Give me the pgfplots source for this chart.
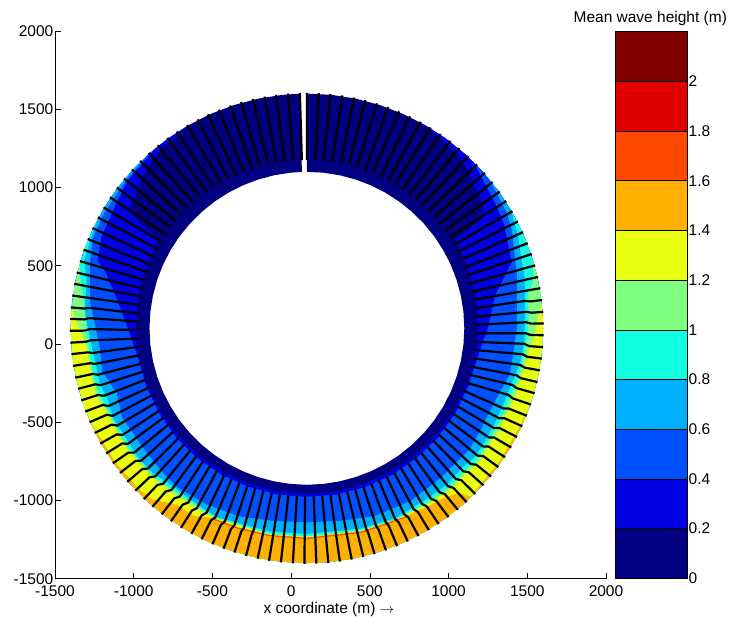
\documentclass[border=0pt]{standalone}
\usepackage{fontspec}
\setmainfont{Liberation Sans}
\usepackage{pgfplots}
\pgfplotsset{compat=1.18}
\definecolor{c0}{RGB}{0,0,128}
\definecolor{c1}{RGB}{0,0,224}
\definecolor{c2}{RGB}{0,80,255}
\definecolor{c3}{RGB}{0,176,255}
\definecolor{c4}{RGB}{16,255,224}
\definecolor{c5}{RGB}{128,255,128}
\definecolor{c6}{RGB}{232,255,16}
\definecolor{c7}{RGB}{255,176,0}
\definecolor{c8}{RGB}{255,72,0}
\definecolor{c9}{RGB}{224,0,0}
\definecolor{c10}{RGB}{128,0,0}
\pgfplotsset{
  /pgfplots/table/pol/.style={row sep=\\,
    x expr={100+\thisrow{r}*cos(\thisrow{a})},
    y expr={100+\thisrow{r}*sin(\thisrow{a})}},
  /pgfplots/table/ray/.style={row sep=\\,
    x expr={100+\thisrow{r}*cos(\thisrow{a}+\thisrow{d})},
    y expr={100+\thisrow{r}*sin(\thisrow{a}+\thisrow{d})}},
}
\begin{document}
\begin{tikzpicture}[x=1pt,y=1pt]
\useasboundingbox (0,0) rectangle (729,617);
\begin{axis}[
  at={(55pt,38.3pt)}, anchor=south west, scale only axis,
  width=551pt, height=547.7pt,
  xmin=-1500, xmax=2000, ymin=-1500, ymax=2000,
  axis x line*=bottom, axis y line*=left,
  xtick={-1500,-1000,...,2000}, ytick={-1500,-1000,...,2000},
  tick align=inside, major tick length=5.5pt,
  tick style={black,line width=0.5pt}, axis line style={black,line width=0.6pt},
  /pgf/number format/assume math mode=true,
  /pgf/number format/1000 sep={},
  tick label style={font=\fontsize{15.5}{17}\selectfont},
  every tick label/.append style={inner sep=1.5pt},
  xticklabel style={yshift=-5pt},
  xlabel={x coordinate (m) $\rightarrow$},
  xlabel style={font=\fontsize{15.5}{17}\selectfont, at={(axis description cs:0.497,0)}, anchor=north, yshift=-22pt, inner sep=1pt},
  unbounded coords=jump,
]
% base ring
\addplot[fill=c0,draw=none] table[pol]{a r\\
90 1500\\84 1500\\78 1500\\72 1500\\66 1500\\60 1500\\54 1500\\48 1500\\42 1500\\36 1500\\30 1500\\24 1500\\18 1500\\12 1500\\6 1500\\0 1500\\-6 1500\\-12 1500\\-18 1500\\-24 1500\\-30 1500\\-36 1500\\-42 1500\\-48 1500\\-54 1500\\-60 1500\\-66 1500\\-72 1500\\-78 1500\\-84 1500\\-90 1500\\-96 1500\\-102 1500\\-108 1500\\-114 1500\\-120 1500\\-126 1500\\-132 1500\\-138 1500\\-144 1500\\-150 1500\\-156 1500\\-162 1500\\-168 1500\\-174 1500\\-180 1500\\-186 1500\\-192 1500\\-198 1500\\-204 1500\\-210 1500\\-216 1500\\-222 1500\\-228 1500\\-234 1500\\-240 1500\\-246 1500\\-252 1500\\-258 1500\\-264 1500\\-268.2 1500\\
-268.2 1000\\-264 1000\\-258 1000\\-252 1000\\-246 1000\\-240 1000\\-234 1000\\-228 1000\\-222 1000\\-216 1000\\-210 1000\\-204 1000\\-198 1000\\-192 1000\\-186 1000\\-180 1000\\-174 1000\\-168 1000\\-162 1000\\-156 1000\\-150 1000\\-144 1000\\-138 1000\\-132 1000\\-126 1000\\-120 1000\\-114 1000\\-108 1000\\-102 1000\\-96 1000\\-90 1000\\-84 1000\\-78 1000\\-72 1000\\-66 1000\\-60 1000\\-54 1000\\-48 1000\\-42 1000\\-36 1000\\-30 1000\\-24 1000\\-18 1000\\-12 1000\\-6 1000\\0 1000\\6 1000\\12 1000\\18 1000\\24 1000\\30 1000\\36 1000\\42 1000\\48 1000\\54 1000\\60 1000\\66 1000\\72 1000\\78 1000\\84 1000\\90 1000\\
};
% level 0.2
\addplot[fill=c1,draw=none] table[pol]{a r\\
60 1500\\50 1470\\45 1440\\40 1400\\35 1370\\32 1300\\31 1100\\20 1095\\10 1090\\0 1085\\-10 1082\\-20 1076\\-30 1072\\-40 1068\\-50 1065\\-60 1062\\-70 1060\\-80 1060\\-90 1060\\-100 1060\\-110 1060\\-120 1062\\-130 1065\\-140 1068\\-150 1072\\-160 1076\\-170 1082\\-180 1085\\-190 1090\\-200 1095\\-211 1100\\-213 1320\\-215 1370\\-220 1400\\-225 1440\\-230 1470\\-240 1500\\
-234 1500\\-228 1500\\-222 1500\\-216 1500\\-210 1500\\-204 1500\\-198 1500\\-192 1500\\-186 1500\\-180 1500\\-174 1500\\-168 1500\\-162 1500\\-156 1500\\-150 1500\\-144 1500\\-138 1500\\-132 1500\\-126 1500\\-120 1500\\-114 1500\\-108 1500\\-102 1500\\-96 1500\\-90 1500\\-84 1500\\-78 1500\\-72 1500\\-66 1500\\-60 1500\\-54 1500\\-48 1500\\-42 1500\\-36 1500\\-30 1500\\-24 1500\\-18 1500\\-12 1500\\-6 1500\\0 1500\\6 1500\\12 1500\\18 1500\\24 1500\\30 1500\\36 1500\\42 1500\\48 1500\\54 1500\\
};
% level 0.4
\addplot[fill=c2,draw=none] table[pol]{a r\\
45 1500\\38 1456\\34 1440\\28 1419\\18 1368\\10 1215\\0 1150\\-7 1110\\-20 1090\\-30 1088\\-40 1086\\-50 1084\\-60 1082\\-70 1080\\-80 1079\\-90 1078\\-100 1079\\-110 1080\\-120 1082\\-130 1084\\-140 1085\\-150 1085\\-160 1087\\-170 1090\\-180 1137\\-189 1224\\-196 1337\\-198 1398\\-204 1430\\-213 1450\\-220 1480\\-230 1500\\
-224 1500\\-218 1500\\-212 1500\\-206 1500\\-200 1500\\-194 1500\\-188 1500\\-182 1500\\-176 1500\\-170 1500\\-164 1500\\-158 1500\\-152 1500\\-146 1500\\-140 1500\\-134 1500\\-128 1500\\-122 1500\\-116 1500\\-110 1500\\-104 1500\\-98 1500\\-92 1500\\-86 1500\\-80 1500\\-74 1500\\-68 1500\\-62 1500\\-56 1500\\-50 1500\\-44 1500\\-38 1500\\-32 1500\\-26 1500\\-20 1500\\-14 1500\\-8 1500\\-2 1500\\4 1500\\10 1500\\16 1500\\22 1500\\28 1500\\34 1500\\40 1500\\
};
% level 0.6
\addplot[fill=c3,draw=none] table[pol]{a r\\
40 1500\\35.5 1484\\30 1468\\25.7 1446\\13.7 1375\\0 1335\\-9 1320\\-13 1322\\-19 1290\\-25 1277\\-31 1282\\-37 1290\\-42 1280\\-48 1280\\-59 1285\\-70 1275\\-80 1250\\-90 1240\\-100 1250\\-110 1278\\-120 1295\\-129 1308\\-135 1300\\-142 1293\\-149 1292\\-154 1305\\-161 1277\\-168 1328\\-175 1322\\-187 1388\\-197 1441\\-203 1478\\-210 1484\\-220 1490\\-228 1500\\
-222 1500\\-216 1500\\-210 1500\\-204 1500\\-198 1500\\-192 1500\\-186 1500\\-180 1500\\-174 1500\\-168 1500\\-162 1500\\-156 1500\\-150 1500\\-144 1500\\-138 1500\\-132 1500\\-126 1500\\-120 1500\\-114 1500\\-108 1500\\-102 1500\\-96 1500\\-90 1500\\-84 1500\\-78 1500\\-72 1500\\-66 1500\\-60 1500\\-54 1500\\-48 1500\\-42 1500\\-36 1500\\-30 1500\\-24 1500\\-18 1500\\-12 1500\\-6 1500\\0 1500\\6 1500\\12 1500\\18 1500\\24 1500\\30 1500\\36 1500\\
};
% level 0.8
\addplot[fill=c4,draw=none] table[pol]{a r\\
30 1500\\24 1467\\12.5 1420\\4 1390\\-4 1384\\-9 1373\\-15 1350\\-21 1341\\-27 1340\\-33 1343\\-38 1348\\-42 1329\\-48 1339\\-55 1330\\-65 1338\\-75 1325\\-90 1314\\-100 1320\\-115 1335\\-120 1328\\-132 1326\\-136.5 1347\\-142.5 1353\\-149 1347\\-155 1358\\-161 1346\\-165 1362\\-171.4 1363\\-175.2 1372\\-184 1415\\-192.4 1433\\-197 1478\\-203 1490\\-208 1500\\
-202 1500\\-196 1500\\-190 1500\\-184 1500\\-178 1500\\-172 1500\\-166 1500\\-160 1500\\-154 1500\\-148 1500\\-142 1500\\-136 1500\\-130 1500\\-124 1500\\-118 1500\\-112 1500\\-106 1500\\-100 1500\\-94 1500\\-88 1500\\-82 1500\\-76 1500\\-70 1500\\-64 1500\\-58 1500\\-52 1500\\-46 1500\\-40 1500\\-34 1500\\-28 1500\\-22 1500\\-16 1500\\-10 1500\\-4 1500\\2 1500\\8 1500\\14 1500\\20 1500\\26 1500\\
};
% level 1.0
\addplot[fill=c5,draw=none] table[pol]{a r\\
17 1500\\12 1470\\8 1413\\4 1415\\-2.4 1400\\-9 1385\\-16 1375\\-20.6 1359\\-26 1361\\-33 1361\\-39 1368\\-42 1353\\-48 1361\\-55 1350\\-65 1345\\-75 1335\\-90 1330\\-100 1335\\-115 1340\\-120 1335\\-132 1345\\-136 1360\\-140.5 1358\\-146 1368\\-151 1365\\-156 1365\\-162 1385\\-167 1392\\-175 1390\\-180 1400\\-188 1435\\-192 1470\\-196 1500\\
-190 1500\\-184 1500\\-178 1500\\-172 1500\\-166 1500\\-160 1500\\-154 1500\\-148 1500\\-142 1500\\-136 1500\\-130 1500\\-124 1500\\-118 1500\\-112 1500\\-106 1500\\-100 1500\\-94 1500\\-88 1500\\-82 1500\\-76 1500\\-70 1500\\-64 1500\\-58 1500\\-52 1500\\-46 1500\\-40 1500\\-34 1500\\-28 1500\\-22 1500\\-16 1500\\-10 1500\\-4 1500\\2 1500\\8 1500\\14 1500\\
};
% level 1.2
\addplot[fill=c6,draw=none] table[pol]{a r\\
6 1500\\3 1470\\-2.3 1445\\-5 1423\\-10 1403\\-16.5 1393\\-21.4 1386\\-24.7 1377\\-28 1389\\-32 1375\\-38 1392\\-42 1371\\-48 1375\\-55 1362\\-65 1350\\-75 1340\\-90 1334\\-100 1338\\-115 1345\\-120 1350\\-129 1354\\-133 1361\\-136 1370\\-140.5 1365\\-146 1379\\-151 1375\\-156 1375\\-162 1406\\-167 1403\\-175 1405\\-180 1445\\-182 1470\\-185 1500\\
-179 1500\\-173 1500\\-167 1500\\-161 1500\\-155 1500\\-149 1500\\-143 1500\\-137 1500\\-131 1500\\-125 1500\\-119 1500\\-113 1500\\-107 1500\\-101 1500\\-95 1500\\-89 1500\\-83 1500\\-77 1500\\-71 1500\\-65 1500\\-59 1500\\-53 1500\\-47 1500\\-41 1500\\-35 1500\\-29 1500\\-23 1500\\-17 1500\\-11 1500\\-5 1500\\1 1500\\
};
% level 1.4
\addplot[fill=c7,draw=none] table[pol]{a r\\
-19 1500\\-25 1492\\-35 1490\\-46 1495\\-47.3 1430\\-51 1392\\-56 1373\\-64 1353\\-75 1343\\-90 1337\\-100 1340\\-109 1345\\-116 1350\\-121 1397\\-126 1396\\-132 1470\\-136 1482\\-145 1488\\-157 1500\\
-151 1500\\-145 1500\\-139 1500\\-133 1500\\-127 1500\\-121 1500\\-115 1500\\-109 1500\\-103 1500\\-97 1500\\-91 1500\\-85 1500\\-79 1500\\-73 1500\\-67 1500\\-61 1500\\-55 1500\\-49 1500\\-43 1500\\-37 1500\\-31 1500\\-25 1500\\
};
% level 1.6
\addplot[fill=c8,draw=none] table[pol]{a r\\
-62 1358\\-75 1345\\-90 1339\\-100 1342\\-109 1347\\-116 1352\\-116 1358\\-109 1354\\-100 1349\\-90 1347\\-75 1353\\-62 1364\\
};
% rays; rows with r=99999 only break the line
\addplot[black,line width=2.2pt,line join=round,restrict x to domain=-3000:3000] table[ray]{a d r\\
90.0 0 1075\\90.0 0 1505\\0 0 99999\\87.1 0 1075\\87.1 0 1505\\0 0 99999\\84.3 0 1075\\84.3 0 1505\\0 0 99999\\81.4 0 1075\\81.4 0 1505\\0 0 99999\\
78.5 0 1075\\78.5 0 1505\\0 0 99999\\75.7 0 1075\\75.7 0 1505\\0 0 99999\\72.8 0 1075\\72.8 0 1505\\0 0 99999\\69.9 0 1075\\69.9 0 1505\\0 0 99999\\
67.1 0 1075\\67.1 0 1505\\0 0 99999\\64.2 0 1075\\64.2 0 1505\\0 0 99999\\61.3 0 1075\\61.3 0 1505\\0 0 99999\\58.5 0 1075\\58.5 0 1505\\0 0 99999\\
55.6 0 1075\\55.6 0 1505\\0 0 99999\\52.7 0 1075\\52.7 0 1505\\0 0 99999\\49.9 0 1075\\49.9 0 1505\\0 0 99999\\47.0 0 1075\\47.0 0 1505\\0 0 99999\\
44.1 0 1075\\44.1 0 1505\\0 0 99999\\41.3 0 1075\\41.3 0 1505\\0 0 99999\\38.4 0 1075\\38.4 0 1505\\0 0 99999\\35.5 0 1075\\35.5 0 1505\\0 0 99999\\
32.7 0 1075\\32.7 0 1505\\0 0 99999\\29.8 0 1075\\29.8 0 1505\\0 0 99999\\27.0 0 1075\\27.0 0 1505\\0 0 99999\\24.1 0 1075\\24.1 0 1505\\0 0 99999\\
21.2 0 1075\\21.2 0 1505\\0 0 99999\\18.4 0 1075\\18.4 0 1505\\0 0 99999\\15.5 0 1075\\15.5 0 1505\\0 0 99999\\12.6 0 1075\\12.6 0 1505\\0 0 99999\\
9.8 0 1075\\9.8 0 1505\\0 0 99999\\
6.9 0 1075\\6.9 0.3 1400\\6.9 0 1430\\6.9 0 1505\\0 0 99999\\
4.0 0 1075\\4.0 0.3 1400\\4.0 0 1430\\4.0 0 1505\\0 0 99999\\
1.2 0 1075\\1.2 0.4 1395\\1.2 0 1425\\1.2 0 1505\\0 0 99999\\
-1.7 0 1075\\-1.7 0.4 1390\\-1.7 0 1420\\-1.7 0 1505\\0 0 99999\\
-4.6 0 1075\\-4.6 0.5 1385\\-4.6 0 1415\\-4.6 0 1505\\0 0 99999\\
-7.4 0 1075\\-7.4 0.5 1380\\-7.4 0 1410\\-7.4 0 1505\\0 0 99999\\
-10.3 0 1075\\-10.3 0.5 1375\\-10.3 0 1405\\-10.3 0 1505\\0 0 99999\\
-13.2 0 1075\\-13.2 0.5 1365\\-13.2 0 1395\\-13.2 0 1505\\0 0 99999\\
-16.0 0 1075\\-16.0 0.5 1355\\-16.0 0 1385\\-16.0 0 1505\\0 0 99999\\
-18.9 0 1075\\-18.9 0.5 1350\\-18.9 0 1380\\-18.9 0 1505\\0 0 99999\\
-21.8 0 1075\\-21.8 -0.5 1350\\-21.8 0 1380\\-21.8 0 1505\\0 0 99999\\
-24.6 0 1075\\-24.6 -0.6 1350\\-24.6 0 1380\\-24.6 0 1505\\0 0 99999\\
-27.5 0 1075\\-27.5 -0.7 1350\\-27.5 0 1380\\-27.5 0 1505\\0 0 99999\\
-30.4 0 1075\\-30.4 -0.7 1350\\-30.4 0 1380\\-30.4 0 1505\\0 0 99999\\
-33.2 0 1075\\-33.2 -0.8 1350\\-33.2 0 1380\\-33.2 0 1505\\0 0 99999\\
-36.1 0 1075\\-36.1 -0.8 1355\\-36.1 0 1385\\-36.1 0 1505\\0 0 99999\\
-39.0 0 1075\\-39.0 -0.8 1355\\-39.0 0 1385\\-39.0 0 1505\\0 0 99999\\
-41.8 0 1075\\-41.8 -0.8 1350\\-41.8 0 1380\\-41.8 0 1505\\0 0 99999\\
-44.7 0 1075\\-44.7 -0.8 1350\\-44.7 0 1380\\-44.7 0 1505\\0 0 99999\\
-47.6 0 1075\\-47.6 -0.8 1350\\-47.6 0 1380\\-47.6 0 1505\\0 0 99999\\
-50.4 0 1075\\-50.4 -0.8 1345\\-50.4 0 1375\\-50.4 0 1505\\0 0 99999\\
-53.3 0 1075\\-53.3 -0.8 1345\\-53.3 0 1375\\-53.3 0 1505\\0 0 99999\\
-56.2 0 1075\\-56.2 -0.7 1340\\-56.2 0 1370\\-56.2 0 1505\\0 0 99999\\
-59.0 0 1075\\-59.0 -0.6 1340\\-59.0 0 1370\\-59.0 0 1505\\0 0 99999\\
-61.9 0 1075\\-61.9 -0.6 1340\\-61.9 0 1370\\-61.9 0 1505\\0 0 99999\\
-64.8 0 1075\\-64.8 -0.5 1340\\-64.8 0 1370\\-64.8 0 1505\\0 0 99999\\
-67.6 0 1075\\-67.6 -0.4 1335\\-67.6 0 1365\\-67.6 0 1505\\0 0 99999\\
-70.5 0 1075\\-70.5 -0.3 1335\\-70.5 0 1365\\-70.5 0 1505\\0 0 99999\\
-73.4 0 1075\\-73.4 -0.2 1335\\-73.4 0 1365\\-73.4 0 1505\\0 0 99999\\
-76.2 0 1075\\-76.2 0 1505\\0 0 99999\\-79.1 0 1075\\-79.1 0 1505\\0 0 99999\\-82.0 0 1075\\-82.0 0 1505\\0 0 99999\\-84.8 0 1075\\-84.8 0 1505\\0 0 99999\\
-87.7 0 1075\\-87.7 0 1505\\0 0 99999\\-90.6 0 1075\\-90.6 0 1505\\0 0 99999\\-93.4 0 1075\\-93.4 0 1505\\0 0 99999\\-96.3 0 1075\\-96.3 0 1505\\0 0 99999\\
-99.2 0 1075\\-99.2 0 1505\\0 0 99999\\-102.0 0 1075\\-102.0 0 1505\\0 0 99999\\
-104.9 0 1075\\-104.9 0.2 1335\\-104.9 0 1365\\-104.9 0 1505\\0 0 99999\\
-107.8 0 1075\\-107.8 0.4 1335\\-107.8 0 1365\\-107.8 0 1505\\0 0 99999\\
-110.6 0 1075\\-110.6 0.5 1340\\-110.6 0 1370\\-110.6 0 1505\\0 0 99999\\
-113.5 0 1075\\-113.5 0.6 1340\\-113.5 0 1370\\-113.5 0 1505\\0 0 99999\\
-116.4 0 1075\\-116.4 0.7 1340\\-116.4 0 1370\\-116.4 0 1505\\0 0 99999\\
-119.2 0 1075\\-119.2 0.8 1340\\-119.2 0 1370\\-119.2 0 1505\\0 0 99999\\
-122.1 0 1075\\-122.1 0.8 1345\\-122.1 0 1375\\-122.1 0 1505\\0 0 99999\\
-125.0 0 1075\\-125.0 0.9 1345\\-125.0 0 1375\\-125.0 0 1505\\0 0 99999\\
-127.8 0 1075\\-127.8 0.9 1345\\-127.8 0 1375\\-127.8 0 1505\\0 0 99999\\
-130.7 0 1075\\-130.7 0.9 1345\\-130.7 0 1375\\-130.7 0 1505\\0 0 99999\\
-133.5 0 1075\\-133.5 0.9 1350\\-133.5 0 1380\\-133.5 0 1505\\0 0 99999\\
-136.4 0 1075\\-136.4 0.9 1350\\-136.4 0 1380\\-136.4 0 1505\\0 0 99999\\
-139.3 0 1075\\-139.3 0.9 1350\\-139.3 0 1380\\-139.3 0 1505\\0 0 99999\\
-142.1 0 1075\\-142.1 0.9 1350\\-142.1 0 1380\\-142.1 0 1505\\0 0 99999\\
-145.0 0 1075\\-145.0 0.9 1355\\-145.0 0 1385\\-145.0 0 1505\\0 0 99999\\
-147.9 0 1075\\-147.9 0.9 1355\\-147.9 0 1385\\-147.9 0 1505\\0 0 99999\\
-150.7 0 1075\\-150.7 0.9 1355\\-150.7 0 1385\\-150.7 0 1505\\0 0 99999\\
-153.6 0 1075\\-153.6 0.9 1355\\-153.6 0 1385\\-153.6 0 1505\\0 0 99999\\
-156.5 0 1075\\-156.5 0.9 1355\\-156.5 0 1385\\-156.5 0 1505\\0 0 99999\\
-159.3 0 1075\\-159.3 0.8 1355\\-159.3 0 1385\\-159.3 0 1505\\0 0 99999\\
-162.2 0 1075\\-162.2 0.7 1360\\-162.2 0 1390\\-162.2 0 1505\\0 0 99999\\
-165.1 0 1075\\-165.1 0.6 1360\\-165.1 0 1390\\-165.1 0 1505\\0 0 99999\\
-167.9 0 1075\\-167.9 0.5 1360\\-167.9 0 1390\\-167.9 0 1505\\0 0 99999\\
-170.8 0 1075\\-170.8 0.4 1365\\-170.8 0 1395\\-170.8 0 1505\\0 0 99999\\
-173.7 0 1075\\-173.7 0.3 1370\\-173.7 0 1400\\-173.7 0 1505\\0 0 99999\\
-176.5 0 1075\\-176.5 -0.3 1375\\-176.5 0 1405\\-176.5 0 1505\\0 0 99999\\
-179.4 0 1075\\-179.4 -0.4 1380\\-179.4 0 1410\\-179.4 0 1505\\0 0 99999\\
-182.3 0 1075\\-182.3 -0.4 1385\\-182.3 0 1415\\-182.3 0 1505\\0 0 99999\\
-185.1 0 1075\\-185.1 -0.3 1390\\-185.1 0 1420\\-185.1 0 1505\\0 0 99999\\
-188.0 0 1075\\-188.0 0 1505\\0 0 99999\\-190.9 0 1075\\-190.9 0 1505\\0 0 99999\\-193.7 0 1075\\-193.7 0 1505\\0 0 99999\\-196.6 0 1075\\-196.6 0 1505\\0 0 99999\\
-199.5 0 1075\\-199.5 0 1505\\0 0 99999\\-202.3 0 1075\\-202.3 0 1505\\0 0 99999\\-205.2 0 1075\\-205.2 0 1505\\0 0 99999\\-208.1 0 1075\\-208.1 0 1505\\0 0 99999\\
-210.9 0 1075\\-210.9 0 1505\\0 0 99999\\-213.8 0 1075\\-213.8 0 1505\\0 0 99999\\-216.7 0 1075\\-216.7 0 1505\\0 0 99999\\-219.5 0 1075\\-219.5 0 1505\\0 0 99999\\
-222.4 0 1075\\-222.4 0 1505\\0 0 99999\\-225.3 0 1075\\-225.3 0 1505\\0 0 99999\\-228.1 0 1075\\-228.1 0 1505\\0 0 99999\\-231.0 0 1075\\-231.0 0 1505\\0 0 99999\\
-233.9 0 1075\\-233.9 0 1505\\0 0 99999\\-236.7 0 1075\\-236.7 0 1505\\0 0 99999\\-239.6 0 1075\\-239.6 0 1505\\0 0 99999\\-242.5 0 1075\\-242.5 0 1505\\0 0 99999\\
-245.3 0 1075\\-245.3 0 1505\\0 0 99999\\-248.2 0 1075\\-248.2 0 1505\\0 0 99999\\-251.1 0 1075\\-251.1 0 1505\\0 0 99999\\-253.9 0 1075\\-253.9 0 1505\\0 0 99999\\
-256.8 0 1075\\-256.8 0 1505\\0 0 99999\\-259.7 0 1075\\-259.7 0 1505\\0 0 99999\\-262.5 0 1075\\-262.5 0 1505\\0 0 99999\\-265.4 0 1075\\-265.4 0 1505\\0 0 99999\\
-268.3 0 1075\\-268.3 0 1505\\
};
\end{axis}
% colour bar
\begin{axis}[
  at={(615pt,38.8pt)}, anchor=south west, scale only axis,
  width=72pt, height=546.5pt,
  xmin=0, xmax=1, ymin=0, ymax=2.2,
  xtick=\empty,
  ytick={0,0.2,...,2.01},
  yticklabels={0,0.2,0.4,0.6,0.8,1,1.2,1.4,1.6,1.8,2},
  ytick pos=right, tick align=inside, major tick length=3pt,
  tick style={black,line width=0.5pt}, axis line style={black,line width=0.6pt},
  tick label style={font=\fontsize{15.5}{17}\selectfont},
  yticklabel style={inner sep=1.5pt},
  axis on top,
  title={Mean wave height (m)},
  title style={font=\fontsize{15.5}{17}\selectfont, at={(axis description cs:0.49,1)}, anchor=south, yshift=-1pt, inner sep=1pt},
]
\addplot[fill=c0,draw=black,line width=0.5pt] coordinates {(0,0)(1,0)(1,0.2)(0,0.2)} --cycle;
\addplot[fill=c1,draw=black,line width=0.5pt] coordinates {(0,0.2)(1,0.2)(1,0.4)(0,0.4)} --cycle;
\addplot[fill=c2,draw=black,line width=0.5pt] coordinates {(0,0.4)(1,0.4)(1,0.6)(0,0.6)} --cycle;
\addplot[fill=c3,draw=black,line width=0.5pt] coordinates {(0,0.6)(1,0.6)(1,0.8)(0,0.8)} --cycle;
\addplot[fill=c4,draw=black,line width=0.5pt] coordinates {(0,0.8)(1,0.8)(1,1.0)(0,1.0)} --cycle;
\addplot[fill=c5,draw=black,line width=0.5pt] coordinates {(0,1.0)(1,1.0)(1,1.2)(0,1.2)} --cycle;
\addplot[fill=c6,draw=black,line width=0.5pt] coordinates {(0,1.2)(1,1.2)(1,1.4)(0,1.4)} --cycle;
\addplot[fill=c7,draw=black,line width=0.5pt] coordinates {(0,1.4)(1,1.4)(1,1.6)(0,1.6)} --cycle;
\addplot[fill=c8,draw=black,line width=0.5pt] coordinates {(0,1.6)(1,1.6)(1,1.8)(0,1.8)} --cycle;
\addplot[fill=c9,draw=black,line width=0.5pt] coordinates {(0,1.8)(1,1.8)(1,2.0)(0,2.0)} --cycle;
\addplot[fill=c10,draw=black,line width=0.5pt] coordinates {(0,2.0)(1,2.0)(1,2.2)(0,2.2)} --cycle;
\end{axis}
\end{tikzpicture}
\end{document}
